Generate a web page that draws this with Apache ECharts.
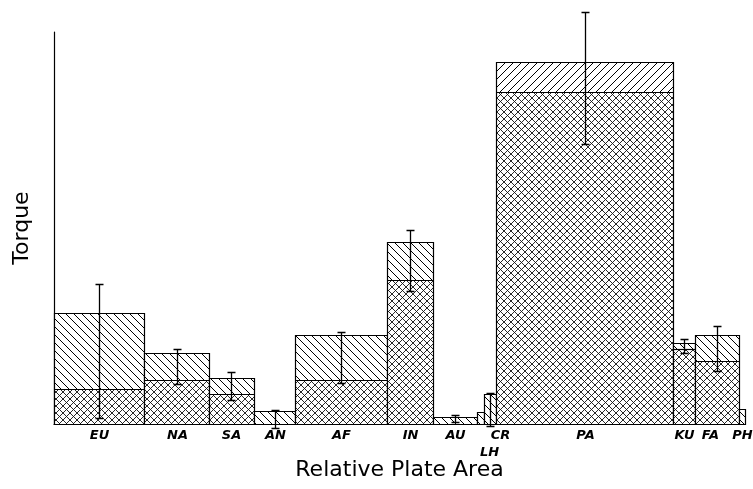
<!DOCTYPE html>
<html>
<head>
<meta charset="utf-8">
<script src="https://cdn.jsdelivr.net/npm/echarts@6/dist/echarts.min.js"></script>
<style>
  html, body { margin: 0; padding: 0; background: #fff; }
  #chart { width: 753px; height: 489px; }
</style>
</head>
<body>
<div id="chart"></div>
<script>
// plates, their relative area (bar width) and torque (bar height)
var plates      = ['EU', 'NA', 'SA', 'AN', 'AF', 'IN', 'AU', 'LH', 'CR', 'PA', 'KU', 'FA', 'PH'];
var plateArea   = [9.0, 6.5, 4.5, 4.1, 9.2, 4.6, 4.4, 0.7, 1.2, 17.7, 2.2, 4.4, 0.6];
var totalTorque = [28.3, 18.1, 11.7, 3.3, 22.7, 46.4, 1.8, 3.1, 7.7, 92.3, 20.7, 22.7, 3.8];
var innerTorque = [8.9, 11.2, 7.7, 0, 11.2, 36.7, 0, 0, 0, 84.7, 19.1, 16.1, 0];
var errLow      = [1.5, 10.2, 6.1, -1.0, 10.5, 33.9, 0.5, null, -0.5, 71.4, 18.1, 13.5, null];
var errHigh     = [35.7, 19.1, 13.3, 3.6, 23.5, 49.5, 2.3, null, 7.9, 105.0, 21.7, 25.0, null];

// little label shifts where names would collide
var labelNudge = { LH: [9, 17], CR: [10, 0], FA: [-7, 0] };
var forwardHatch = { PA: true };

function makeHatch(step, back, fwd, lw, col) {
    var c = document.createElement('canvas');
    c.width = step; c.height = step;
    var ctx = c.getContext('2d');
    ctx.fillStyle = '#fff';
    ctx.fillRect(0, 0, step, step);
    ctx.strokeStyle = col;
    ctx.lineWidth = lw;
    for (var k = -1; k <= 1; k++) {
        if (back) { ctx.beginPath(); ctx.moveTo(k * step, 0); ctx.lineTo(k * step + step, step); ctx.stroke(); }
        if (fwd) { ctx.beginPath(); ctx.moveTo(k * step, step); ctx.lineTo(k * step + step, 0); ctx.stroke(); }
    }
    return { image: c, repeat: 'repeat' };
}
var backPat = makeHatch(8, true, false, 1.0, '#000');
var fwdPat = makeHatch(8, false, true, 1.0, '#000');
var crossPat = makeHatch(7, true, true, 0.9, '#111');

var data = [];
var acc = 0;
for (var i = 0; i < plates.length; i++) {
    data.push([acc, acc + plateArea[i], totalTorque[i], innerTorque[i], errLow[i], errHigh[i]]);
    acc += plateArea[i];
}

function px(v) { return Math.round(v) + 0.5; }

var chart = echarts.init(document.getElementById('chart'));
chart.setOption({
    animation: false,
    grid: { left: 54, right: 8, top: 32, bottom: 65 },
    xAxis: {
        type: 'value', min: 0, max: acc,
        name: 'Relative Plate Area', nameLocation: 'middle', nameGap: 35,
        nameTextStyle: { fontFamily: 'DejaVu Sans', fontSize: 22, color: '#000' },
        axisLine: { show: true, lineStyle: { color: '#000', width: 1.2 } },
        axisTick: { show: false }, axisLabel: { show: false }, splitLine: { show: false }
    },
    yAxis: {
        type: 'value', min: 0, max: 100,
        name: 'Torque', nameLocation: 'middle', nameGap: 21,
        nameTextStyle: { fontFamily: 'DejaVu Sans', fontSize: 22, color: '#000' },
        axisLine: { show: true, lineStyle: { color: '#000', width: 1.2 } },
        axisTick: { show: false }, axisLabel: { show: false }, splitLine: { show: false }
    },
    series: [{
        type: 'custom',
        clip: false,
        data: data,
        renderItem: function (params, api) {
            var idx = params.dataIndex;
            var name = plates[idx];
            var base = api.coord([api.value(0), 0]);
            var top = api.coord([api.value(1), api.value(2)]);
            var mid = api.coord([api.value(1), api.value(3)]);
            var x0 = px(base[0]), x1 = px(top[0]);
            var yb = px(base[1]), yt = px(top[1]), ym = px(mid[1]);
            var w = x1 - x0;
            var children = [];
            children.push({
                type: 'rect',
                shape: { x: x0, y: yt, width: w, height: ym - yt },
                style: { fill: forwardHatch[name] ? fwdPat : backPat }
            });
            if (api.value(3) > 0) {
                children.push({
                    type: 'rect',
                    shape: { x: x0, y: ym, width: w, height: yb - ym },
                    style: { fill: crossPat }
                });
                children.push({
                    type: 'line',
                    shape: { x1: x0, y1: ym, x2: x1, y2: ym },
                    style: { stroke: '#000', lineWidth: 1.2 }
                });
            }
            children.push({
                type: 'rect',
                shape: { x: x0, y: yt, width: w, height: yb - yt },
                style: { fill: null, stroke: '#000', lineWidth: 1.2 }
            });
            var cx = px((base[0] + top[0]) / 2);
            if (errLow[idx] != null) {
                var lo = px(api.coord([0, api.value(4)])[1]);
                var hi = px(api.coord([0, api.value(5)])[1]);
                var cap = 4;
                children.push({ type: 'line', shape: { x1: cx, y1: lo, x2: cx, y2: hi }, style: { stroke: '#000', lineWidth: 1.3 } });
                children.push({ type: 'line', shape: { x1: cx - cap, y1: lo, x2: cx + cap, y2: lo }, style: { stroke: '#000', lineWidth: 1.5 } });
                children.push({ type: 'line', shape: { x1: cx - cap, y1: hi, x2: cx + cap, y2: hi }, style: { stroke: '#000', lineWidth: 1.5 } });
            }
            var nudge = labelNudge[name] || [0, 0];
            children.push({
                type: 'text',
                style: {
                    text: name, x: cx + nudge[0], y: yb + 5 + nudge[1],
                    align: 'center', verticalAlign: 'top',
                    fontFamily: 'DejaVu Sans', fontSize: 13,
                    fontStyle: 'italic', fontWeight: 'bold', fill: '#000'
                }
            });
            return { type: 'group', children: children };
        }
    }]
});
</script>
</body>
</html>
